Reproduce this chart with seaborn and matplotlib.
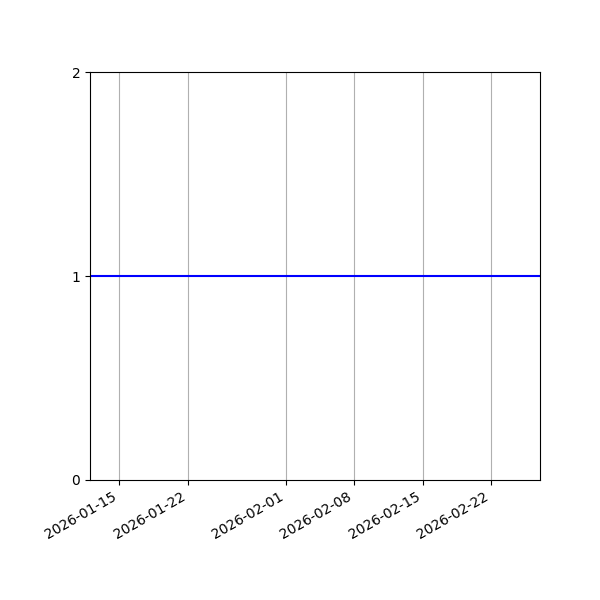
import matplotlib
matplotlib.use('Agg')
import matplotlib.pyplot as plt
import pandas as pd
import seaborn as sns

# Data: a flat series at 1 from mid-January to end of February
dates = ['2026-01-12', '2026-02-27']
values = [1.0, 1.0]

df = pd.DataFrame({'date': pd.to_datetime(dates), 'value': values})

fig, ax = plt.subplots(figsize=(6, 6), dpi=100)

sns.lineplot(data=df, x='date', y='value', ax=ax, color='blue', linewidth=1.5)

ax.set_xlim(df.date.min(), df.date.max())
ax.set_ylim(0, 2)
ax.set_yticks([0, 1, 2])
ax.set_xlabel('')
ax.set_ylabel('')
ax.grid(axis='x', color='#b0b0b0', linewidth=0.8)
ax.set_axisbelow(True)

fig.autofmt_xdate()
fig.subplots_adjust(left=0.15, right=0.9, top=0.88, bottom=0.2)

fig.savefig('out.png')
